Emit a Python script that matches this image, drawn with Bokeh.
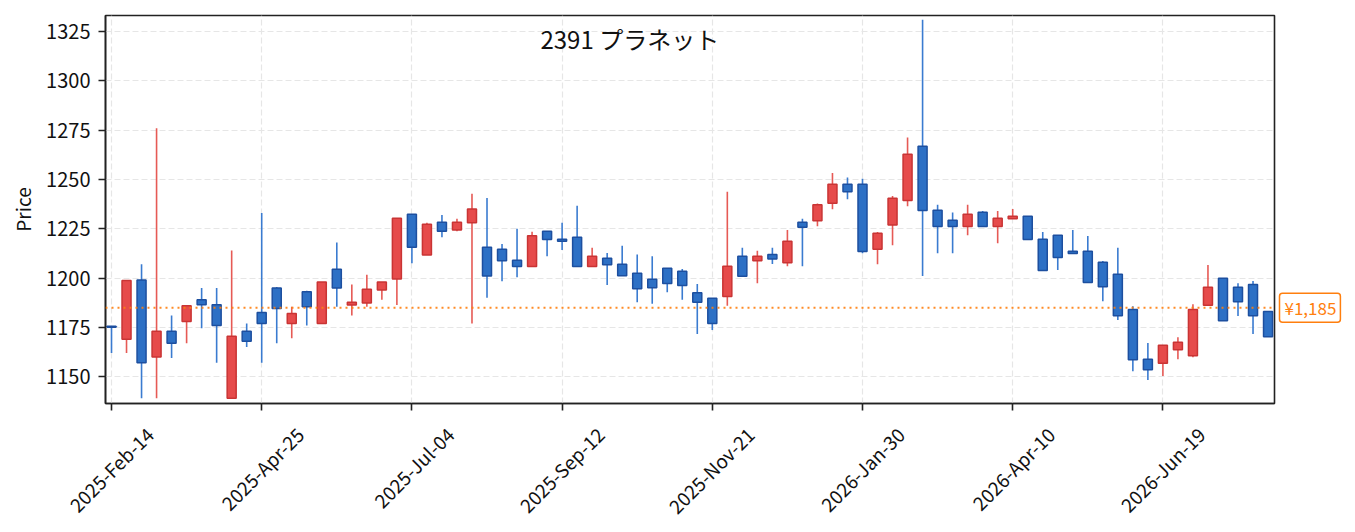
import pandas as pd
from math import pi
from bokeh.plotting import figure
from bokeh.models import Range1d, FixedTicker, Span, Label, ColumnDataSource, DatetimeAxis
from bokeh.embed import file_html
from bokeh.resources import INLINE

# ---------------- data ----------------
start_date = "2025-02-14"
title_text = "2391  プラネット"
last_price = 1185
last_price_label = "¥1,185"

opens = [1175.5, 1169, 1199, 1160, 1173, 1178, 1189, 1186.5, 1139, 1173,
         1182.5, 1195, 1177, 1193, 1177, 1204.5, 1186.3, 1187.4, 1194, 1199.5,
         1232.3, 1211.7, 1228.3, 1224.4, 1228, 1215.6, 1214.6, 1209, 1205.8, 1223.7,
         1219.7, 1220.7, 1205.8, 1210, 1207, 1202.4, 1199.4, 1205, 1203.4, 1192.6,
         1189.7, 1190.7, 1211, 1208.8, 1212, 1207.8, 1228.3, 1229, 1237.9, 1247.6,
         1247.6, 1214.6, 1226.9, 1239.3, 1266.8, 1234.4, 1229.3, 1226.1, 1233.4, 1226.1,
         1230, 1231.3, 1219.7, 1221.7, 1213.6, 1213.6, 1208, 1201.9, 1184, 1158.8,
         1156.8, 1163.7, 1160.6, 1186.2, 1199.9, 1195.3, 1196.7, 1183.1]
highs = [1175.5, 1199, 1207, 1276, 1181, 1186, 1195, 1195, 1214, 1177,
         1233, 1195.5, 1185.5, 1193.5, 1198, 1218, 1196.7, 1201.7, 1198, 1230.3,
         1232.3, 1228, 1232, 1230, 1242.7, 1240.6, 1217.3, 1225, 1223.5, 1223.7,
         1228, 1236.6, 1215.3, 1212.7, 1216.4, 1211.9, 1211, 1205, 1204.6, 1197,
         1189.7, 1243.8, 1215.3, 1213.9, 1215.3, 1224.4, 1230, 1237.8, 1253.3, 1251,
         1250.3, 1223.4, 1241.6, 1271.2, 1331, 1237.2, 1233.2, 1237.2, 1234, 1234,
         1235, 1231.3, 1223.4, 1221.7, 1224.4, 1221.3, 1208.7, 1215.3, 1185.7, 1167.1,
         1166, 1170, 1186.7, 1206.6, 1199.9, 1197.3, 1198.5, 1183.1]
lows = [1162, 1162, 1139, 1139, 1159.5, 1167, 1174.5, 1157, 1139, 1165,
        1157, 1167, 1169.5, 1176, 1177, 1185.5, 1181, 1185.5, 1189, 1186.3,
        1207.5, 1211.7, 1220.7, 1223.7, 1177, 1190, 1198.4, 1200.4, 1205.8, 1211,
        1214.2, 1205.8, 1205.8, 1196.5, 1201.2, 1187.7, 1187, 1192.8, 1189, 1171.6,
        1173.7, 1186, 1200.5, 1197.3, 1207.1, 1206, 1206, 1226.3, 1234.9, 1240,
        1212.6, 1207, 1216.6, 1236.4, 1201, 1212.6, 1212.6, 1221.7, 1226, 1217.6,
        1230, 1219.5, 1203.8, 1204.1, 1212.4, 1197.7, 1188.2, 1178.7, 1152.7, 1148.3,
        1150.3, 1158.8, 1159.8, 1186, 1178.4, 1180.8, 1171.6, 1170.3]
closes = [1175, 1198.7, 1157, 1173, 1167, 1186, 1186.5, 1176, 1170.5, 1168,
          1177, 1184.5, 1182, 1185.5, 1198, 1195, 1187.7, 1194.3, 1198, 1230.3,
          1215.6, 1227.3, 1223.7, 1228.3, 1235, 1201, 1208.8, 1205.8, 1221.5, 1219.5,
          1218.7, 1205.8, 1211, 1206.8, 1201.2, 1194.6, 1195.1, 1197.2, 1196.2, 1187.7,
          1177, 1206, 1200.9, 1211, 1209.7, 1218.6, 1225.7, 1237.1, 1247.6, 1243.8,
          1213.4, 1222.7, 1240.5, 1262.8, 1234.2, 1226.1, 1226.1, 1232.3, 1226.1, 1230.3,
          1231.3, 1219.5, 1203.8, 1210.4, 1212.4, 1197.7, 1195.6, 1180.9, 1158.6, 1153.5,
          1165.9, 1167.4, 1184, 1195.3, 1178.4, 1188, 1180.9, 1170.3]

tick_labels = ["2025-Feb-14", "2025-Apr-25", "2025-Jul-04", "2025-Sep-12",
               "2025-Nov-21", "2026-Jan-30", "2026-Apr-10", "2026-Jun-19"]
y_ticks = [1150, 1175, 1200, 1225, 1250, 1275, 1300, 1325]

# ---------------- styling / layout ----------------
FONT = "Noto Sans CJK JP"
UP_FILL, UP_EDGE, UP_WICK = "#e64b4b", "#c93434", "#e65a55"
DN_FILL, DN_EDGE, DN_WICK = "#2d70c5", "#1d4f9f", "#3a7bd0"
ORANGE = "#ff7f0e"
TXT = "#111111"
SPINE = "#222222"

W = 1352
LEFT, RIGHT, TOP, BOT = 105, 78, 15, 129
FRAME_H = 388
FRAME_W = W - LEFT - RIGHT
LABEL_SHIFT_PX = 38      # centres the 45-degree date labels on their ticks
LABEL_STANDOFF = 20

dates = pd.date_range(start_date, periods=len(opens), freq="7D")
x_ms = [int(d.value // 10**6) for d in dates]
WEEK = 7 * 24 * 3600 * 1000
x_start = x_ms[0] - 0.4 * WEEK
x_end = x_ms[0] + 77.43 * WEEK
ms_per_px = (x_end - x_start) / FRAME_W

up = [c >= o for o, c in zip(opens, closes)]
src = ColumnDataSource(dict(
    x=x_ms,
    top=[max(o, c) for o, c in zip(opens, closes)],
    bottom=[min(o, c) for o, c in zip(opens, closes)],
    high=highs, low=lows,
    fill=[UP_FILL if u else DN_FILL for u in up],
    edge=[UP_EDGE if u else DN_EDGE for u in up],
    wick=[UP_WICK if u else DN_WICK for u in up],
))

p = figure(width=W, height=TOP + FRAME_H + BOT, x_axis_type="datetime",
           output_backend="svg", toolbar_location=None,
           min_border_left=LEFT, min_border_right=RIGHT,
           min_border_top=TOP, min_border_bottom=BOT)
p.x_range = Range1d(x_start, x_end)
p.y_range = Range1d(1136.4, 1333.1)

p.background_fill_color = "white"
p.border_fill_color = "white"
p.outline_line_color = SPINE
p.outline_line_width = 1.6

for g in (p.xgrid, p.ygrid):
    g.grid_line_color = "#e6e6e6"
    g.grid_line_dash = "6 3"
    g.grid_line_width = 1.2

# candles
p.segment(x0="x", y0="low", x1="x", y1="high", source=src,
          line_color="wick", line_width=1.6)
p.vbar(x="x", top="top", bottom="bottom", width=0.6 * WEEK, source=src,
       fill_color="fill", line_color="edge", line_width=1.5)

# last price line
p.add_layout(Span(location=last_price, dimension="width", line_color=ORANGE,
                  line_dash="2 4", line_width=2, line_alpha=0.9))

# y axis
yax = p.yaxis[0]
yax.ticker = FixedTicker(ticks=y_ticks)
yax.axis_label = "Price"
yax.axis_label_text_font = FONT
yax.axis_label_text_font_style = "normal"
yax.axis_label_text_font_size = "19px"
yax.axis_label_text_color = TXT
yax.axis_label_standoff = 7
yax.major_label_text_font = FONT
yax.major_label_text_font_size = "20px"
yax.major_label_text_color = TXT
yax.major_label_standoff = 8
yax.major_tick_out = 7
yax.major_tick_in = 0
yax.minor_tick_out = 0
yax.minor_tick_in = 0
yax.axis_line_width = 1.6
yax.axis_line_color = SPINE
yax.major_tick_line_width = 1.6
yax.major_tick_line_color = SPINE

# x axis: tick marks at the dates
tick_ms = x_ms[::10][:len(tick_labels)]
xax = p.xaxis[0]
xax.ticker = FixedTicker(ticks=tick_ms)
xax.major_label_overrides = {t: "" for t in tick_ms}
xax.major_label_text_font_size = "1px"
xax.major_label_standoff = 0
xax.major_tick_out = 7
xax.major_tick_in = 0
xax.minor_tick_out = 0
xax.minor_tick_in = 0
xax.axis_line_width = 1.6
xax.axis_line_color = SPINE
xax.major_tick_line_width = 1.6
xax.major_tick_line_color = SPINE

# rotated date labels (second axis, labels centred on the ticks above)
label_ticks = [int(round(t + LABEL_SHIFT_PX * ms_per_px)) for t in tick_ms]
lab_ax = DatetimeAxis(ticker=FixedTicker(ticks=label_ticks),
                      major_label_overrides={lt: lab for lt, lab in zip(label_ticks, tick_labels)},
                      major_label_orientation=pi / 4,
                      axis_line_color=None, major_tick_line_color=None,
                      minor_tick_line_color=None,
                      major_tick_out=0, major_tick_in=0,
                      minor_tick_out=0, minor_tick_in=0,
                      major_label_standoff=LABEL_STANDOFF,
                      major_label_text_font=FONT, major_label_text_font_size="19px",
                      major_label_text_color=TXT)
p.add_layout(lab_ax, "below")

# title inside the frame
p.add_layout(Label(x=527, y=365, x_units="screen", y_units="screen", text=title_text,
                   text_align="center", text_baseline="middle",
                   text_font=FONT, text_font_size="24px", text_color=TXT))

# last price tag on the right (side panel, so it is not clipped)
p.add_layout(Label(x=5, y=last_price, x_units="screen", y_units="data",
                   text=last_price_label, text_align="left", text_baseline="middle",
                   text_font=FONT, text_font_size="17px", text_color=ORANGE,
                   padding=dict(left=5, right=4, top=2, bottom=2),
                   border_line_color=ORANGE, border_line_width=1.5,
                   background_fill_color="white", border_radius=3), "right")

open("out.html", "w").write(file_html(p, INLINE))
